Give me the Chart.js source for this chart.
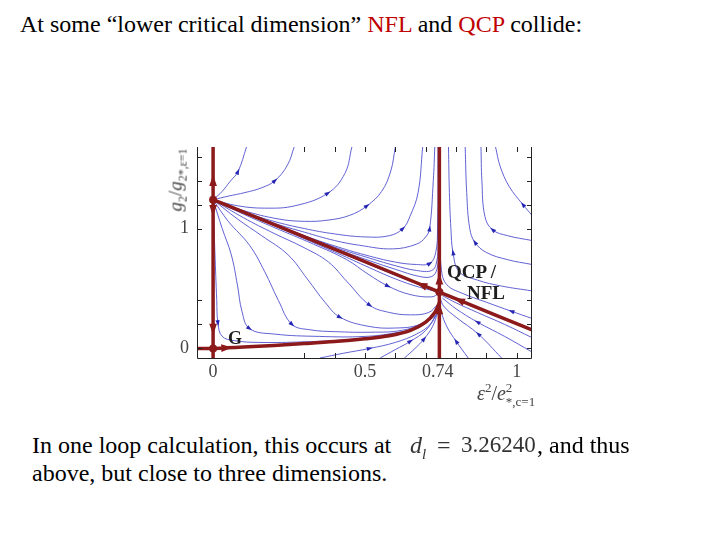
<!DOCTYPE html>
<html>
<head>
<meta charset="utf-8">
<script src="https://cdn.jsdelivr.net/npm/chart.js@4.4.0/dist/chart.umd.min.js"></script>
<style>
body { margin: 0; width: 720px; height: 540px; background: #fff; position: relative; overflow: hidden;
       font-family: "Liberation Serif", "Times New Roman", serif; }
.t { position: absolute; white-space: nowrap; color: #000; line-height: 1; }
.red { color: #c00000; }
.lbl { position: absolute; white-space: nowrap; font-weight: bold; color: #1e1e1e; font-size: 19px; line-height: 1; }
#box { position: absolute; left: 160px; top: 143px; width: 380px; height: 245px; }
#box canvas { display: block; }
</style>
</head>
<body>

<div class="t" style="left:20px;top:12px;font-size:24px">At some “lower critical dimension” <span class="red">NFL</span> and <span class="red">QCP</span> collide:</div>

<div id="box"><canvas id="flow" width="380" height="245"></canvas></div>

<div class="t" style="left:177px;top:180px;font-size:19px;color:#444;transform:translate(-50%,-50%) rotate(-90deg)"><i>g</i><sub style="font-size:12px">2</sub>/<i>g</i><sub style="font-size:12px">2*,ε=1</sub></div>
<div class="t" style="left:477px;top:381px;font-size:20px;color:#444"><i>ε</i><sup style="font-size:13px">2</sup>/<i>e</i><span style="display:inline-block;vertical-align:middle;font-size:13px;line-height:1.05">2<br>*,c=1</span></div>

<div class="lbl" style="left:447px;top:262px">QCP /</div>
<div class="lbl" style="left:467px;top:283px">NFL</div>
<div class="lbl" style="left:228px;top:329px;font-size:18px">G</div>

<div class="t" style="left:32px;top:433px;font-size:24px">In one loop calculation, this occurs at</div>
<div class="t" style="left:32px;top:461px;font-size:24px">above, but close to three dimensions.</div>
<div class="t" style="left:410px;top:433px;font-size:24px;color:#333"><i>d</i><sub style="font-size:15px"><i>l</i></sub></div>
<div class="t" style="left:437px;top:433px;font-size:24px;color:#333">=</div>
<div class="t" style="left:461px;top:433px;font-size:23px;color:#333">3.26240</div>
<div class="t" style="left:537px;top:433px;font-size:24px">, and thus</div>

<script>
// axis ranges / ticks
var xRange = [-0.053, 1.05];
var yRange = [-0.08, 1.68];
var xTickVals = [0, 0.5, 0.74, 1];
var xTickText = ['0', '0.5', '0.74', '1'];
var yTickVals = [0, 1];
var yTickText = ['0', '1'];
var xMarks = [0.3, 0.4, 0.5, 0.6, 0.7, 0.8, 0.9, 1.0];
var yMarks = [0, 0.2, 0.4, 1.0, 1.2, 1.4, 1.6];

// fixed points: upper saddle, G, QCP/NFL
var fixedPts = [[0, 1.24], [0, 0], [0.745, 0.47]];

// red separatrices
var redUp = [[0, 1.24], [0, 1.40], [0, 1.68]];
var redDown = [[0, 1.24], [0, 1.15], [0, 0.16], [0, -0.08]];
var redG = [[-0.053, 0], [0, 0], [0.045, 0.005], [0.1, 0.012], [0.2, 0.025], [0.3, 0.04], [0.4, 0.057], [0.5, 0.08], [0.58, 0.105], [0.65, 0.15], [0.7, 0.22], [0.73, 0.3], [0.745, 0.38]];
var redDiag = [[1.05, 0.154], [0.81, 0.402], [0.745, 0.47], [0.686, 0.531], [0.04, 1.199], [0, 1.24]];
var redVert = [[0.745, -0.08], [0.745, 0.33], [0.745, 0.47], [0.745, 0.58], [0.745, 1.68]];

// blue flow lines, upper left (leaving the saddle upwards)
var u1 = [[0, 1.24], [0.03, 1.31], [0.055, 1.39], [0.082, 1.475], [0.11, 1.68]];
var u2 = [[0, 1.24], [0.05, 1.27], [0.105, 1.30], [0.16, 1.34], [0.204, 1.40], [0.245, 1.53], [0.267, 1.68]];
var u3 = [[0, 1.24], [0.08, 1.19], [0.17, 1.17], [0.27, 1.19], [0.378, 1.295], [0.434, 1.46], [0.457, 1.68]];
var u4 = [[0, 1.24], [0.1, 1.15], [0.214, 1.08], [0.3, 1.06], [0.378, 1.07], [0.45, 1.11], [0.507, 1.19], [0.555, 1.31], [0.585, 1.48], [0.6, 1.68]];
var u5 = [[0, 1.24], [0.1, 1.14], [0.2, 1.06], [0.3, 1.0], [0.4, 0.955], [0.5, 0.93], [0.58, 0.94], [0.625, 1.0], [0.648, 1.1], [0.675, 1.3], [0.69, 1.68]];
var u6 = [[0, 1.24], [0.1, 1.138], [0.2, 1.045], [0.3, 0.97], [0.4, 0.9], [0.483, 0.86], [0.59, 0.83], [0.67, 0.87], [0.7, 0.93], [0.713, 1.0], [0.725, 1.4], [0.73, 1.68]];
var d1 = [[0, 1.24], [0.1, 1.137], [0.2, 1.036], [0.3, 0.94], [0.4, 0.855], [0.5, 0.78], [0.6, 0.72], [0.67, 0.7], [0.714, 0.71], [0.733, 0.8], [0.739, 1.0], [0.741, 1.68]];
var d2 = [[0, 1.24], [0.2, 1.034], [0.4, 0.835], [0.5, 0.745], [0.6, 0.66], [0.68, 0.6], [0.72, 0.6], [0.737, 0.66], [0.742, 0.8], [0.743, 1.68]];
var d3 = [[0, 1.24], [0.2, 1.04], [0.4, 0.845], [0.5, 0.765], [0.6, 0.69], [0.67, 0.65], [0.72, 0.65], [0.736, 0.72], [0.741, 0.9], [0.742, 1.68]];

// blue flow lines, lower left (leaving the saddle downwards)
var l0 = [[0, 1.24], [0.2, 1.028], [0.4, 0.82], [0.5, 0.715], [0.6, 0.61], [0.68, 0.53], [0.745, 0.47]];
var l1 = [[0, 1.24], [0.2, 1.025], [0.4, 0.805], [0.5, 0.69], [0.6, 0.58], [0.68, 0.51], [0.745, 0.47]];
var l2 = [[0, 1.24], [0.1, 1.12], [0.2, 1.01], [0.33, 0.87], [0.44, 0.74], [0.51, 0.62], [0.576, 0.52], [0.648, 0.45], [0.72, 0.43], [0.744, 0.46]];
var l3 = [[0, 1.24], [0.1, 1.09], [0.2, 0.96], [0.3, 0.84], [0.38, 0.72], [0.44, 0.56], [0.516, 0.36], [0.58, 0.3], [0.65, 0.28], [0.71, 0.3], [0.74, 0.37]];
var l4 = [[0, 1.24], [0.08, 1.08], [0.16, 0.94], [0.247, 0.78], [0.31, 0.58], [0.37, 0.38], [0.418, 0.26], [0.51, 0.185], [0.6, 0.17], [0.68, 0.2], [0.735, 0.3]];
var l5 = [[0, 1.24], [0.05, 1.06], [0.12, 0.86], [0.17, 0.64], [0.215, 0.4], [0.26, 0.2], [0.32, 0.155], [0.4, 0.14], [0.52, 0.135], [0.62, 0.15], [0.69, 0.21], [0.735, 0.3]];
var l6 = [[0, 1.24], [0.03, 1.0], [0.06, 0.78], [0.08, 0.53], [0.095, 0.31], [0.12, 0.165], [0.2, 0.12], [0.35, 0.1], [0.5, 0.1], [0.6, 0.13], [0.68, 0.18], [0.73, 0.28]];
var l7 = [[0, 1.24], [0.006, 0.8], [0.012, 0.4], [0.016, 0.21], [0.03, 0.1], [0.07, 0.065], [0.15, 0.05], [0.3, 0.055], [0.45, 0.075], [0.58, 0.115], [0.68, 0.18], [0.73, 0.27]];

// blue flow lines from the bottom edge
var b1 = [[0.352, -0.08], [0.43, -0.04], [0.516, 0.0], [0.6, 0.05], [0.67, 0.12], [0.715, 0.2], [0.738, 0.3]];
var b2 = [[0.55, -0.08], [0.6, -0.01], [0.65, 0.06], [0.7, 0.15], [0.735, 0.28]];
var b3 = [[0.63, -0.08], [0.665, 0.0], [0.695, 0.08], [0.722, 0.18], [0.74, 0.3]];

// blue flow lines, right of the QCP
var r1 = [[0.84, -0.08], [0.8, 0.06], [0.77, 0.18], [0.752, 0.3], [0.746, 0.4]];
var r2 = [[0.95, -0.08], [0.873, 0.12], [0.8, 0.26], [0.76, 0.35], [0.747, 0.42]];
var r3 = [[1.05, -0.03], [0.96, 0.1], [0.87, 0.22], [0.8, 0.33], [0.755, 0.42]];
var r4 = [[1.05, 0.09], [0.96, 0.2], [0.87, 0.3], [0.8, 0.38], [0.755, 0.44]];
var t0 = [[1.05, 0.25], [0.982, 0.31], [0.9, 0.385], [0.82, 0.46], [0.77, 0.53], [0.752, 0.65], [0.747, 1.0], [0.746, 1.68]];
var t1 = [[1.05, 0.48], [0.95, 0.52], [0.87, 0.57], [0.81, 0.64], [0.79, 0.8], [0.783, 1.0], [0.778, 1.3], [0.775, 1.68]];
var t2 = [[1.05, 0.7], [0.97, 0.74], [0.9, 0.8], [0.862, 0.885], [0.845, 1.0], [0.835, 1.3], [0.83, 1.68]];
var t3 = [[1.05, 0.9], [0.97, 0.94], [0.92, 0.99], [0.895, 1.1], [0.885, 1.4], [0.882, 1.68]];
var t4 = [[1.05, 1.11], [1.02, 1.2], [0.975, 1.35], [0.945, 1.52], [0.93, 1.68]];

var blueLines = [
    [u1, [3]], [u2, [4]], [u3, [4]], [u4, [6]], [u5, [7]], [u6, [9]], [d1, [8]], [d2, []], [d3, []],
    [l0, []], [l1, []], [l2, [6]], [l3, [6]], [l4, [6]], [l5, [5]], [l6, [5]], [l7, [3]],
    [b1, [2]], [b2, [2]], [b3, [2]],
    [r1, [1]], [r2, [1]], [r3, [2]], [r4, []],
    [t0, [1]], [t1, [4]], [t2, [3]], [t3, [2]], [t4, [1]]
];
var redLines = [
    [redUp, [1]], [redDown, [1, 2]], [redG, [2]], [redDiag, [1, 3]], [redVert, [1, 3]]
];

var BLUE = 'rgba(70, 70, 205, 0.85)';
var BLUE_ARROW = '#2626b4';
var RED = '#8c1a1a';

var toXY = function (pts) {
    return pts.map(function (p) { return { x: p[0], y: p[1] }; });
}

var datasets = [];
redLines.forEach(function (r) {
    datasets.push({
        data: toXY(r[0]), borderColor: RED, borderWidth: 3.5, tension: 0.3,
        pointRadius: 0, order: 0, arrowAt: r[1], arrowColor: RED, arrowSize: 11
    });
});
blueLines.forEach(function (b) {
    datasets.push({
        data: toXY(b[0]), borderColor: BLUE, borderWidth: 1, tension: 0.4,
        pointRadius: 0, order: 2, arrowAt: b[1], arrowColor: BLUE_ARROW, arrowSize: 6
    });
});
datasets.push({
    data: toXY(fixedPts), showLine: false, pointRadius: 4, pointBackgroundColor: RED,
    pointBorderWidth: 0, order: -1
});

// frame with inward ticks, like the original plot
var framePlugin = {
    id: 'frame',
    afterDatasetsDraw: function (chart) {
        var ctx = chart.ctx, a = chart.chartArea;
        var sx = chart.scales.x, sy = chart.scales.y;
        ctx.save();
        ctx.strokeStyle = '#222';
        ctx.lineWidth = 1;
        ctx.beginPath();
        ctx.moveTo(a.left + 0.5, a.top);
        ctx.lineTo(a.left + 0.5, a.bottom + 0.5);
        ctx.lineTo(a.right - 0.5, a.bottom + 0.5);
        ctx.lineTo(a.right - 0.5, a.top);
        xMarks.forEach(function (v) {
            var px = Math.round(sx.getPixelForValue(v)) + 0.5;
            ctx.moveTo(px, a.bottom); ctx.lineTo(px, a.bottom - 5);
            ctx.moveTo(px, a.top); ctx.lineTo(px, a.top + 5);
        });
        yMarks.forEach(function (v) {
            var py = Math.round(sy.getPixelForValue(v)) + 0.5;
            ctx.moveTo(a.left, py); ctx.lineTo(a.left + 5, py);
            ctx.moveTo(a.right, py); ctx.lineTo(a.right - 5, py);
        });
        ctx.stroke();
        ctx.restore();
    }
};

// arrowheads along the flow lines
var arrowPlugin = {
    id: 'arrows',
    afterDatasetsDraw: function (chart) {
        var ctx = chart.ctx, a = chart.chartArea;
        var sx = chart.scales.x, sy = chart.scales.y;
        ctx.save();
        ctx.beginPath();
        ctx.rect(a.left, a.top, a.right - a.left, a.bottom - a.top);
        ctx.clip();
        var order = chart.data.datasets.slice().sort(function (p, q) { return (q.order || 0) - (p.order || 0); });
        order.forEach(function (ds) {
            if (!ds.arrowAt) return;
            var d = ds.data;
            ds.arrowAt.forEach(function (i) {
                var pa = d[Math.max(i - 1, 0)], pb = d[Math.min(i + 1, d.length - 1)], p = d[i];
                var ax = sx.getPixelForValue(pa.x), ay = sy.getPixelForValue(pa.y);
                var bx = sx.getPixelForValue(pb.x), by = sy.getPixelForValue(pb.y);
                var px = sx.getPixelForValue(p.x), py = sy.getPixelForValue(p.y);
                var ang = Math.atan2(by - ay, bx - ax);
                var L = ds.arrowSize, W = L * 0.7;
                var c = Math.cos(ang), s = Math.sin(ang);
                ctx.fillStyle = ds.arrowColor;
                ctx.beginPath();
                ctx.moveTo(px + c * L / 2, py + s * L / 2);
                ctx.lineTo(px - c * L / 2 - s * W / 2, py - s * L / 2 + c * W / 2);
                ctx.lineTo(px - c * L / 2 + s * W / 2, py - s * L / 2 - c * W / 2);
                ctx.closePath();
                ctx.fill();
            });
        });
        ctx.restore();
    }
};

new Chart('flow', {
    type: 'line',
    data: { datasets: datasets },
    options: {
        responsive: false,
        animation: false,
        layout: { padding: { left: 0, right: 8, top: 0, bottom: 0 } },
        plugins: { legend: { display: false }, tooltip: { enabled: false } },
        scales: {
            x: {
                type: 'linear', min: xRange[0], max: xRange[1],
                grid: { display: false, drawTicks: false },
                border: { display: false },
                afterBuildTicks: function (s) { s.ticks = xTickVals.map(function (v) { return { value: v }; }); },
                afterFit: function (s) { s.height = 30; s.paddingLeft = 0; s.paddingRight = 0; },
                ticks: {
                    autoSkip: false, maxRotation: 0, padding: 3, color: '#444',
                    font: { family: 'Liberation Serif', size: 18 },
                    callback: function (v) { return xTickText[xTickVals.indexOf(v)]; }
                }
            },
            y: {
                type: 'linear', min: yRange[0], max: yRange[1],
                grid: { display: false, drawTicks: false },
                border: { display: false },
                afterBuildTicks: function (s) { s.ticks = yTickVals.map(function (v) { return { value: v }; }); },
                afterFit: function (s) { s.width = 37; s.paddingTop = 0; s.paddingBottom = 0; },
                ticks: {
                    autoSkip: false, padding: 8, color: '#444',
                    font: { family: 'Liberation Serif', size: 18 },
                    callback: function (v) { return yTickText[yTickVals.indexOf(v)]; }
                }
            }
        }
    },
    plugins: [framePlugin, arrowPlugin]
});
</script>
</body>
</html>
